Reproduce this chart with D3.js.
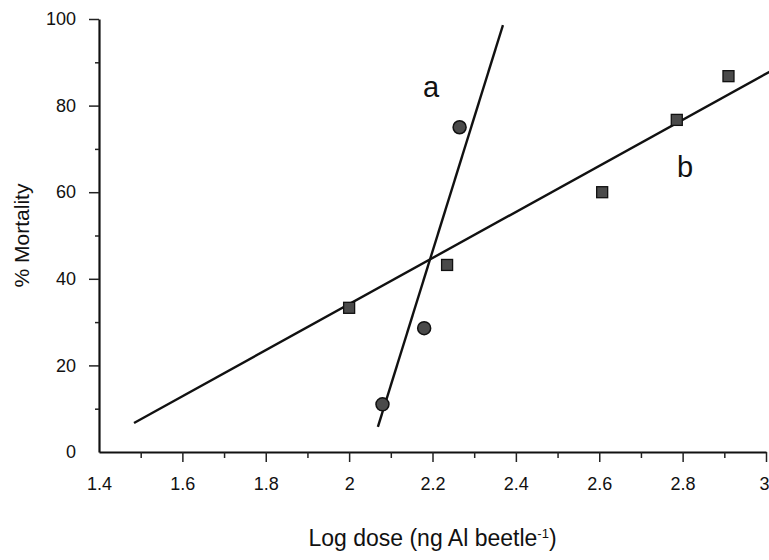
<!DOCTYPE html>
<html>
<head>
<meta charset="utf-8">
<script src="https://cdn.jsdelivr.net/npm/d3@7"></script>
<style>
    html, body { margin: 0; padding: 0; background: #fff; }
    svg { display: block; font-family: "Liberation Sans", Arial, sans-serif; }
</style>
</head>
<body>
<div id="chart"></div>
<script>
// Dose-mortality chart, two populations (a, b)

// Data
const doseA = [2.08, 2.18, 2.265];
const mortA = [11, 28.6, 75];
const doseB = [2.0, 2.235, 2.607, 2.786, 2.91];
const mortB = [33.3, 43.2, 60, 76.7, 86.8];

// fitted lines (end points)
const fitADose = [2.069, 2.369];
const fitAMort = [5.8, 98.6];
const fitBDose = [1.484, 3.01];
const fitBMort = [6.7, 87.9];

const xTicks = [1.4, 1.6, 1.8, 2, 2.2, 2.4, 2.6, 2.8, 3];
const xMinor = [1.5, 1.7, 1.9, 2.1, 2.3, 2.5, 2.7, 2.9];
const yTicks = [0, 20, 40, 60, 80, 100];
const yMinor = [10, 30, 50, 70, 90];

// Configuration
const config = {
    width: 769,
    height: 560,
    left: 99,
    right: 766,
    top: 19,
    bottom: 452
};

const svg = d3.select('#chart')
    .append('svg')
    .attr('width', config.width)
    .attr('height', config.height);

const x = d3.scaleLinear().domain([1.4, 3]).range([config.left, config.right]);
const y = d3.scaleLinear().domain([0, 100]).range([config.bottom, config.top]);

// Axes
const xAxis = svg.append('g')
    .attr('transform', `translate(0,${config.bottom})`)
    .call(d3.axisBottom(x).tickValues(xTicks).tickSize(10).tickSizeOuter(0).tickPadding(15)
        .tickFormat(d => d3.format('')(d)));

svg.append('g')
    .attr('transform', `translate(0,${config.bottom})`)
    .call(d3.axisBottom(x).tickValues(xMinor).tickSize(6).tickSizeOuter(0).tickFormat(''))
    .call(g => g.select('.domain').remove());

const yAxis = svg.append('g')
    .attr('transform', `translate(${config.left},0)`)
    .call(d3.axisLeft(y).tickValues(yTicks).tickSize(10).tickSizeOuter(0).tickPadding(13));

svg.append('g')
    .attr('transform', `translate(${config.left},0)`)
    .call(d3.axisLeft(y).tickValues(yMinor).tickSize(4).tickSizeOuter(0).tickFormat(''))
    .call(g => g.select('.domain').remove());

svg.selectAll('.domain').attr('stroke', '#111').attr('stroke-width', 2.2);
svg.selectAll('.tick line').attr('stroke', '#222').attr('stroke-width', 1.5);
svg.selectAll('.tick text').attr('font-size', 18).attr('fill', '#111')
    .attr('font-family', '"Liberation Sans", Arial, sans-serif');

// hide tick stubs at the corner
xAxis.selectAll('.tick').filter(d => d === 1.4).select('line').remove();
yAxis.selectAll('.tick').filter(d => d === 0).select('line').remove();
// keep the last label inside the frame
xAxis.selectAll('.tick').filter(d => d === 3).select('text').attr('dx', -2);

// Fitted lines
const line = d3.line().x(d => x(d[0])).y(d => y(d[1]));

svg.append('path')
    .datum(d3.zip(fitADose, fitAMort))
    .attr('d', line)
    .attr('fill', 'none')
    .attr('stroke', '#111')
    .attr('stroke-width', 2.4);

svg.append('path')
    .datum(d3.zip(fitBDose, fitBMort))
    .attr('d', line)
    .attr('fill', 'none')
    .attr('stroke', '#111')
    .attr('stroke-width', 2.4);

// Points
svg.append('g')
    .selectAll('circle')
    .data(d3.zip(doseA, mortA))
    .enter().append('circle')
    .attr('cx', d => x(d[0]))
    .attr('cy', d => y(d[1]))
    .attr('r', 6.5)
    .attr('fill', '#4a4a4a')
    .attr('stroke', '#111')
    .attr('stroke-width', 1.5);

const sq = 11;
svg.append('g')
    .selectAll('rect')
    .data(d3.zip(doseB, mortB))
    .enter().append('rect')
    .attr('x', d => x(d[0]) - sq / 2)
    .attr('y', d => y(d[1]) - sq / 2)
    .attr('width', sq)
    .attr('height', sq)
    .attr('fill', '#4a4a4a')
    .attr('stroke', '#111')
    .attr('stroke-width', 1.3);

// Line labels
svg.append('text')
    .attr('x', 431)
    .attr('y', 97)
    .attr('text-anchor', 'middle')
    .attr('font-size', 29)
    .attr('fill', '#111')
    .text('a');

svg.append('text')
    .attr('x', 685)
    .attr('y', 177)
    .attr('text-anchor', 'middle')
    .attr('font-size', 29)
    .attr('fill', '#111')
    .text('b');

// Axis titles
const xTitle = svg.append('text')
    .attr('x', (config.left + config.right) / 2)
    .attr('y', 546)
    .attr('text-anchor', 'middle')
    .attr('font-size', 23)
    .attr('fill', '#111');
xTitle.append('tspan').text('Log dose (ng Al beetle');
xTitle.append('tspan').attr('dy', -8).attr('font-size', 13).text('-1');
xTitle.append('tspan').attr('dy', 8).text(')');

svg.append('text')
    .attr('transform', `translate(29,${(config.top + config.bottom) / 2}) rotate(-90)`)
    .attr('text-anchor', 'middle')
    .attr('font-size', 21)
    .attr('fill', '#111')
    .text('% Mortality');
</script>
</body>
</html>
